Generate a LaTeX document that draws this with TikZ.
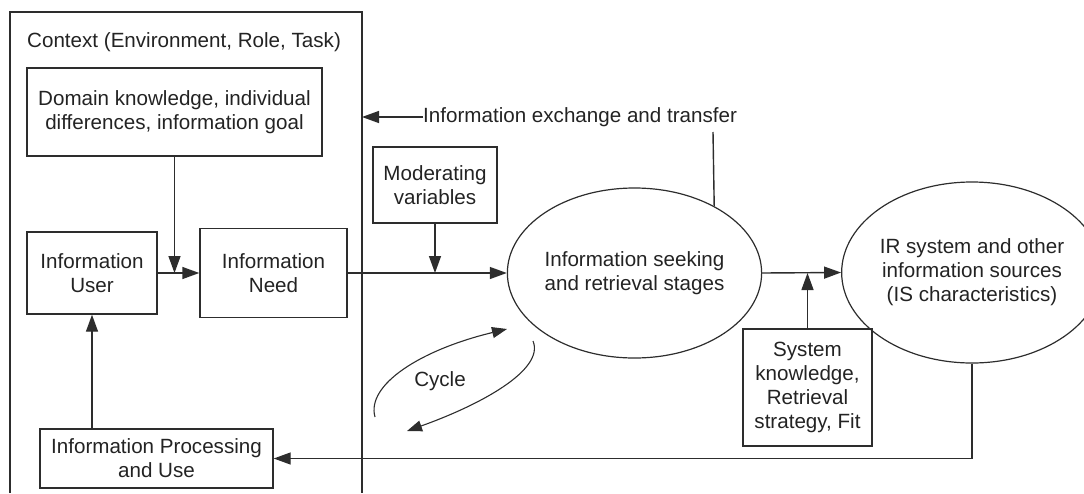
\documentclass[tikz,border=0pt]{standalone}
\usepackage{fontspec}
\setmainfont{Liberation Sans}
\usetikzlibrary{arrows.meta,shapes.geometric,calc}
\definecolor{ink}{RGB}{45,45,45}
\definecolor{txt}{RGB}{35,35,35}

\begin{document}
\begin{tikzpicture}[x=1pt,y=-1pt,
  every node/.style={font=\fontsize{20.6}{24}\selectfont, text=txt},
  box/.style={draw=ink, line width=1.4pt, rectangle, align=center, inner sep=0pt},
  oval/.style={draw=ink, line width=1.2pt, ellipse, align=center, inner sep=0pt},
  link/.style={draw=ink, line width=1.4pt},
  thin link/.style={draw=ink, line width=1.1pt},
  tip/.style={-{Triangle[length=17pt,width=12pt]}},
  small tip/.style={-{Triangle[length=15pt,width=11pt]}}]

\useasboundingbox (0,0) rectangle (1084,493);

% context frame (open at the bottom)
\draw[link] (10,493) -- (10,12) -- (362,12) -- (362,493);
\node[anchor=west, inner sep=0pt] (ctx) at (27,42) {Context (Environment, Role, Task)};
\coordinate (ctxedge) at (362,117);

% boxes inside the context
\node[box, minimum width=295pt, minimum height=88pt] (dom) at (174.5,112)
  {Domain knowledge, individual\\differences, information goal};
\node[box, minimum width=130pt, minimum height=82pt] (user) at (92,273)
  {Information\\User};
\node[box, minimum width=147pt, minimum height=89pt] (need) at (273.5,273)
  {Information\\Need};
\node[box, minimum width=233pt, minimum height=59pt] (proc) at (156.5,458.5)
  {Information Processing\\and Use};

% moderating variables and the two stages
\node[box, minimum width=124pt, minimum height=76pt] (mod) at (435,185)
  {Moderating\\variables};
\node[oval, minimum width=253pt, minimum height=170pt] (seek) at (634.5,273)
  {Information seeking\\and retrieval stages};
\node[oval, minimum width=222pt, minimum height=181pt] (ir) at (972,272.5)
  {IR system and other\\information sources\\(IS characteristics)};
\node[box, minimum width=129pt, minimum height=117pt] (sys) at (807.5,387.5)
  {System\\knowledge,\\Retrieval\\strategy, Fit};

% information exchange back into the context
\node[anchor=west, inner sep=0pt] (exch) at (423,117) {Information exchange and transfer};
\coordinate (exdrop) at (713,132);
\draw[link, tip] (exch.west) -- (ctxedge);
\draw[link] (exdrop) -- (seek.40.4);

% main flow
\draw[link, tip] (dom.south) -- (dom.south |- user.east);
\draw[link, tip] (user.east) -- (need.west);
\draw[link, tip] (need.east) -- (seek.west);
\draw[link, tip] (mod.south) -- (mod.south |- need.east);
\draw[link, tip] (seek.east) -- (ir.west);
\draw[link, tip] (sys.north) -- (sys.north |- seek.east);
\draw[link, tip] (ir.south) -- (ir.south |- proc.east) -- (proc.east);
\draw[link, tip] (proc.north -| user.south) -- (user.south);

% cycle
\coordinate (c1s) at (375,417);
\coordinate (c1e) at (507,329);
\coordinate (c2s) at (533,341);
\coordinate (c2e) at (407,431);
\draw[thin link, small tip] (c1s) .. controls (366,385) and (420,350) .. (c1e);
\draw[thin link, small tip] (c2s) .. controls (545,370) and (480,405) .. (c2e);
\node (cyc) at (440,381) {Cycle};

\end{tikzpicture}
\end{document}
